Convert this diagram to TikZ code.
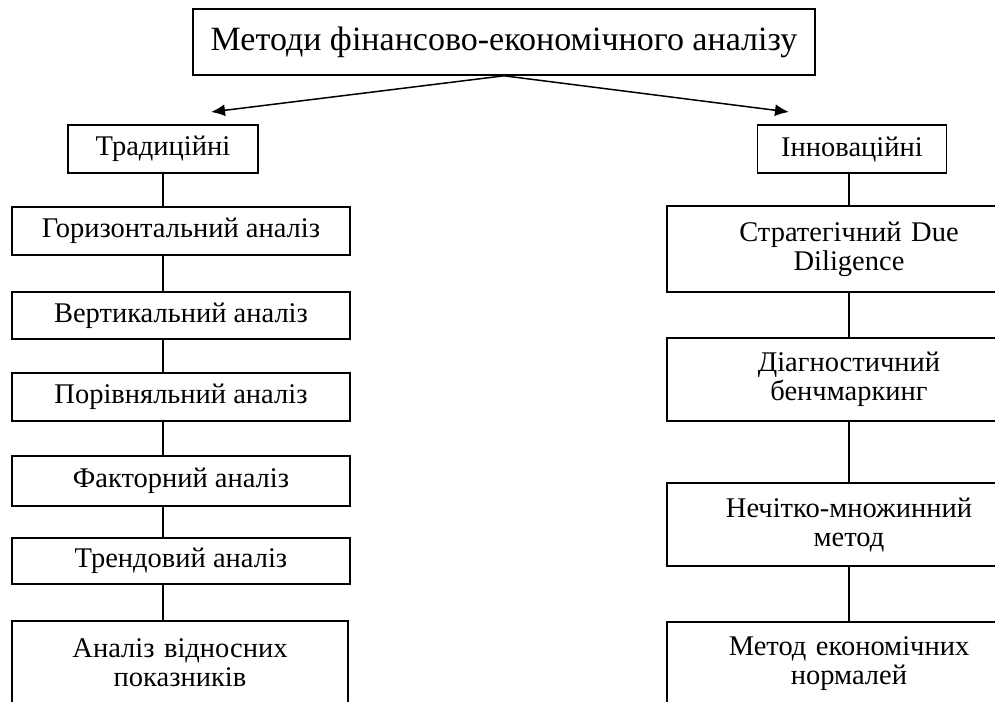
\documentclass[tikz,border=0pt]{standalone}
\usepackage{fontspec}
\setmainfont{LiberationSerif-Regular.ttf}
\usetikzlibrary{arrows.meta}

\tikzset{
  box/.style={draw, line width=1.6pt, inner sep=2pt, align=center,
    font=\rmfamily\fontsize{28.5}{29}\selectfont},
  headbox/.style={box, font=\rmfamily\fontsize{34}{38}\selectfont},
  link/.style={line width=1.5pt},
  arr/.style={line width=1.5pt, -{Latex[length=14pt,width=12pt]}}
}

\begin{document}
\begin{tikzpicture}[x=1pt,y=-1pt]
   \useasboundingbox (0,0) rectangle (995,701);
   \clip (0,0) rectangle (995,701);

   \node[headbox, minimum width=622, minimum height=66] (top) at (504,42) {Методи фінансово-економічного аналізу};

   % left column
   \node[box, minimum width=190, minimum height=48] (trad) at (163,149) {Традиційні};
   \node[box, minimum width=338, minimum height=48] (hor) at (181,231) {Горизонтальний аналіз};
   \node[box, minimum width=338, minimum height=47] (vert) at (181,315.5) {Вертикальний аналіз};
   \node[box, minimum width=338, minimum height=48] (comp) at (181,397) {Порівняльний аналіз};
   \node[box, minimum width=338, minimum height=50] (fact) at (181,481) {Факторний аналіз};
   \node[box, minimum width=338, minimum height=46] (trend) at (181,561) {Трендовий аналіз};
   \node[box, minimum width=336, minimum height=84, text width=320] (rel) at (180,663) {Аналіз відносних\\показників};

   % right column
   \node[box, minimum width=189, minimum height=48] (innov) at (852,149) {Інноваційні};
   \node[box, minimum width=364, minimum height=86, text width=340] (dd) at (849,249) {Стратегічний Due\\Diligence};
   \node[box, minimum width=364, minimum height=83, text width=340] (bench) at (849,379.5) {Діагностичний\\бенчмаркинг};
   \node[box, minimum width=364, minimum height=83, text width=340] (fuzzy) at (849,524.5) {Нечітко-множинний\\метод};
   \node[box, minimum width=364, minimum height=84, text width=340] (norm) at (849,664) {Метод економічних\\нормалей};

   \coordinate (tip1) at (211,112);
   \coordinate (tip2) at (789,112);
   \draw[arr] (top.south) -- (tip1);
   \draw[arr] (top.south) -- (tip2);

   \foreach \a/\b in {trad/hor,hor/vert,vert/comp,comp/fact,fact/trend,trend/rel}
   \draw[link] (\a.south -| trad.south) -- (\b.north -| trad.south);

   \foreach \a/\b in {innov/dd,dd/bench,bench/fuzzy,fuzzy/norm}
   \draw[link] (\a.south -| dd.south) -- (\b.north -| dd.south);

\end{tikzpicture}
\end{document}
